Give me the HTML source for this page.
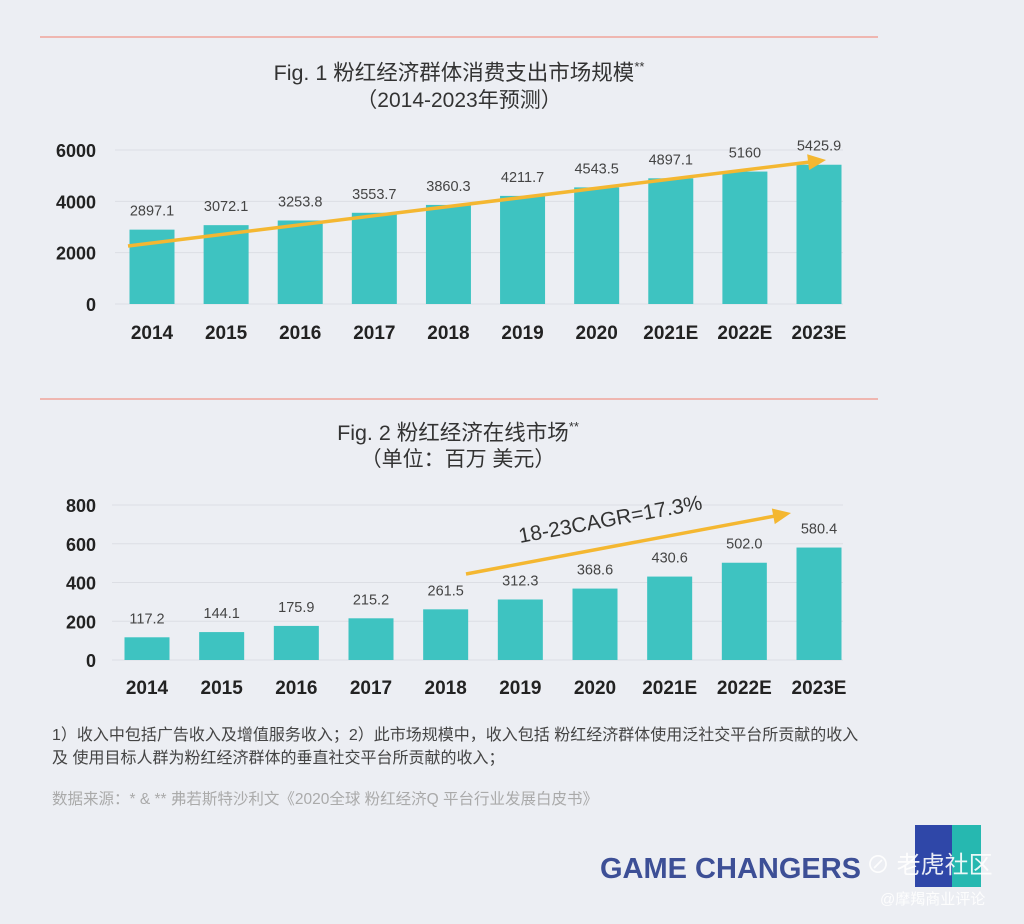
<!DOCTYPE html>
<html><head><meta charset="utf-8">
<style>
html,body{margin:0;padding:0;}
body{width:1024px;height:924px;background:#eceef3;font-family:"Liberation Sans","Noto Sans CJK SC",sans-serif;position:relative;overflow:hidden;}
svg{position:absolute;left:0;top:0;}
</style></head>
<body>
<svg id="chart" width="1024" height="924">
  <line x1="40" y1="37" x2="878" y2="37" stroke="#f0a49a" stroke-width="1.5"/>
  <line x1="40" y1="399" x2="878" y2="399" stroke="#f0a49a" stroke-width="1.5"/>
  <text x="459" y="80" text-anchor="middle" font-size="21.5" fill="#333">Fig. 1 粉红经济群体消费支出市场规模<tspan font-size="13" dy="-9">**</tspan></text>
  <text x="459" y="107" text-anchor="middle" font-size="21" fill="#333">（2014-2023年预测）</text>
  <text x="458" y="440" text-anchor="middle" font-size="21.5" fill="#333">Fig. 2 粉红经济在线市场<tspan font-size="13" dy="-9">**</tspan></text>
  <text x="458" y="466" text-anchor="middle" font-size="21" fill="#333">（单位：百万 美元）</text>
  <g id="c1"></g>
  <g id="c2"></g>
  <text x="52" y="740" font-size="16" fill="#444">1）收入中包括广告收入及增值服务收入；2）此市场规模中，收入包括 粉红经济群体使用泛社交平台所贡献的收入</text>
  <text x="52" y="763" font-size="16" fill="#444">及 使用目标人群为粉红经济群体的垂直社交平台所贡献的收入；</text>
  <text x="52" y="804" font-size="15.5" fill="#aaa">数据来源：* &amp; ** 弗若斯特沙利文《2020全球 粉红经济Q 平台行业发展白皮书》</text>
  <rect x="915" y="825" width="66" height="62" fill="#2f47a8"/>
  <rect x="952" y="825" width="29" height="62" fill="#26b8b0"/>
  <text x="600" y="878" font-size="29" font-weight="bold" fill="#3d4f96">GAME CHANGERS</text>
  <text x="866" y="873" font-size="24" fill="#fff" opacity="0.9">⊘ 老虎社区</text>
  <text x="880" y="904" font-size="15" fill="#fff" opacity="0.9">@摩羯商业评论</text>
</svg>
<script>
const categories = ["2014","2015","2016","2017","2018","2019","2020","2021E","2022E","2023E"];
const spendValues = [2897.1,3072.1,3253.8,3553.7,3860.3,4211.7,4543.5,4897.1,5160,5425.9];
const spendLabels = ["2897.1","3072.1","3253.8","3553.7","3860.3","4211.7","4543.5","4897.1","5160","5425.9"];
const spendTicks = [0,2000,4000,6000];
const onlineValues = [117.2,144.1,175.9,215.2,261.5,312.3,368.6,430.6,502.0,580.4];
const onlineLabels = ["117.2","144.1","175.9","215.2","261.5","312.3","368.6","430.6","502.0","580.4"];
const onlineTicks = [0,200,400,600,800];

const NS="http://www.w3.org/2000/svg";
function mk(p,tag,attrs){const e=document.createElementNS(NS,tag);for(const k in attrs)e.setAttribute(k,attrs[k]);p.appendChild(e);return e;}

function drawChart(gid,vals,labels,ticks,cfg){
  const g=document.getElementById(gid);
  const max=ticks[ticks.length-1];
  const y=v=>cfg.y0-(v/max)*(cfg.y0-cfg.yTop);
  const x=i=>cfg.xFirst+i*(cfg.xLast-cfg.xFirst)/(categories.length-1);
  ticks.forEach(t=>{
    const l=mk(g,'line',{x1:cfg.gx1,x2:843,y1:y(t),y2:y(t),stroke:'#dcdee4','stroke-width':1});
    
    
    const tx=mk(g,'text',{x:96,y:y(t)+7,'text-anchor':'end','font-size':18,'font-weight':'bold',fill:'#222'});
    tx.textContent=t;
    
    
  });
  vals.forEach((v,i)=>{
    const r=mk(g,'rect',{x:x(i)-22.5,y:y(v),width:45,height:cfg.y0-y(v),fill:'#3ec3c1'});
    
    
    const lt=mk(g,'text',{x:x(i),y:y(v)-cfg.lblOff,'text-anchor':'middle','font-size':14.5,fill:'#444'});
    lt.textContent=labels[i];
    
    
    const ct=mk(g,'text',{x:x(i),y:cfg.catY,'text-anchor':'middle','font-size':19,'font-weight':'bold',fill:'#222'});
    ct.textContent=categories[i];
    
    
  });
}
drawChart('c1',spendValues,spendLabels,spendTicks,{y0:304,yTop:150,xFirst:152,xLast:819,catY:339,lblOff:14,gx1:115});
drawChart('c2',onlineValues,onlineLabels,onlineTicks,{y0:660,yTop:505,xFirst:147,xLast:819,catY:694,lblOff:14,gx1:112});

const svg=document.getElementById('chart');
function arrow(x1,y1,x2,y2,name){
  const a=Math.atan2(y2-y1,x2-x1);
  const L=mk(svg,'line',{x1:x1,y1:y1,x2:x2-14*Math.cos(a),y2:y2-14*Math.sin(a),stroke:'#f4b731','stroke-width':3.5});
  
  
  const px=-Math.sin(a),py=Math.cos(a);
  const bx=x2-18*Math.cos(a),by=y2-18*Math.sin(a);
  const h=mk(svg,'polygon',{points:`${x2},${y2} ${bx+8*px},${by+8*py} ${bx-8*px},${by-8*py}`,fill:'#f4b731'});
  
  
}
arrow(128,246,826,160,'fig1-trend-arrow');
arrow(466,574,791,513,'fig2-cagr-arrow');
const cagr=mk(svg,'text',{x:520,y:543,'font-size':21,fill:'#333',transform:'rotate(-10.5 520 543)'});
cagr.textContent='18-23CAGR=17.3%';


</script>
</body></html>
